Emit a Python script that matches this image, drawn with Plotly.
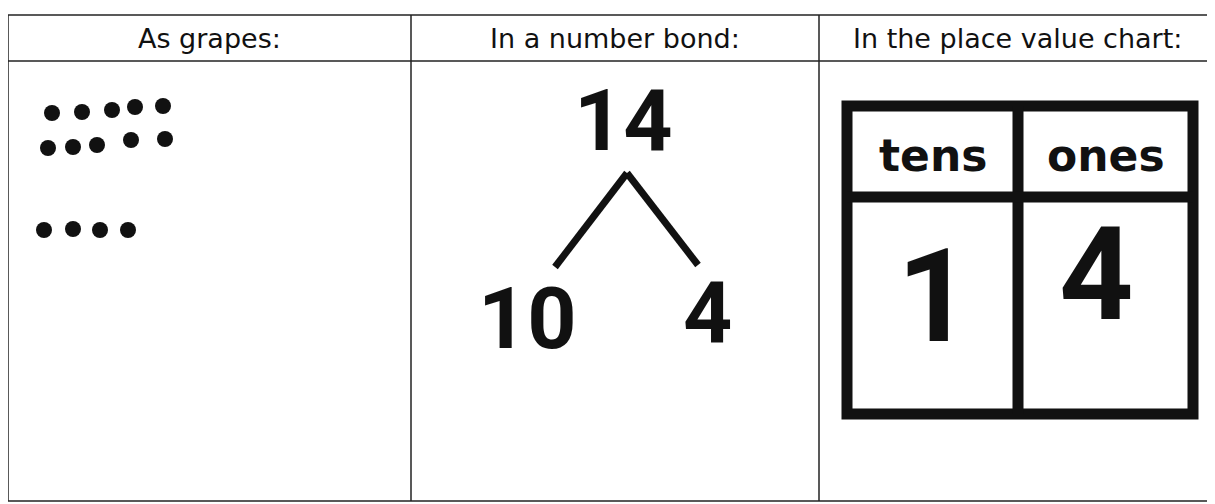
import plotly.graph_objects as go

# worksheet: the number 14 shown three ways
headers = ["As grapes:", "In a number bond:", "In the place value chart:"]
col_edges = [8, 411, 819, 1216]
table_top, header_bottom, table_bottom = 15, 61, 501

# grapes (page coordinates, y measured downward)
grape_x = [52, 82, 112, 135, 163, 48, 73, 97, 131, 165, 44, 73, 100, 128]
grape_y = [113, 112, 110, 107, 106, 148, 147, 145, 140, 139, 230, 229, 230, 230]

# number bond
bond_whole = "14"
bond_parts = ["10", "4"]
bond_whole_xy = (623, 120)
bond_parts_x = [527, 707]
bond_parts_y = [318, 312]
bond_apex = (627, 173)
bond_ends_x = [555, 698]
bond_ends_y = [267, 265]

# place value chart
pv_labels = ["tens", "ones"]
pv_digits = ["1", "4"]
pv_left, pv_right, pv_top, pv_bottom = 847, 1193, 106, 414
pv_mid_x, pv_row_y = 1018, 197
pv_digit_x = [934, 1096]
pv_digit_y = [296, 274]

INK = "#111111"
HEAD_FONT = "DejaVu Sans"
HAND_FONT = "Roboto"
LABEL_FONT = "DejaVu Sans"

# the page body has an 8px margin, so the axes are offset by the same amount
PAGE_PAD = 8

fig = go.Figure()

fig.add_trace(go.Scatter(
    x=grape_x, y=grape_y, mode="markers",
    marker=dict(size=16, color=INK), hoverinfo="skip",
))

for ex, ey in zip(bond_ends_x, bond_ends_y):
    fig.add_trace(go.Scatter(
        x=[bond_apex[0], ex], y=[bond_apex[1], ey], mode="lines",
        line=dict(color=INK, width=7), hoverinfo="skip",
    ))

# table grid
shapes = []
thin = dict(color="#222222", width=1.5)
for yy in (table_top, header_bottom, table_bottom):
    shapes.append(dict(type="line", x0=col_edges[0], x1=col_edges[-1], y0=yy, y1=yy, line=thin))
for xe in col_edges[:-1]:
    shapes.append(dict(type="line", x0=xe, x1=xe, y0=table_top, y1=table_bottom, line=thin))

# place value box
thick = dict(color=INK, width=11)
shapes.append(dict(type="rect", x0=pv_left, x1=pv_right, y0=pv_top, y1=pv_bottom, line=thick))
shapes.append(dict(type="line", x0=pv_mid_x, x1=pv_mid_x, y0=pv_top, y1=pv_bottom, line=thick))
shapes.append(dict(type="line", x0=pv_left, x1=pv_right, y0=pv_row_y, y1=pv_row_y, line=thick))

annotations = []
for i, h in enumerate(headers):
    annotations.append(dict(
        x=(col_edges[i] + col_edges[i + 1]) / 2, y=38, text=h,
        showarrow=False, font=dict(family=HEAD_FONT, size=27, color=INK),
        xanchor="center", yanchor="middle",
    ))

annotations.append(dict(
    x=bond_whole_xy[0], y=bond_whole_xy[1], text=f"<b>{bond_whole}</b>", showarrow=False,
    font=dict(family=HAND_FONT, size=86, color=INK), xanchor="center", yanchor="middle",
))
for px, py, t in zip(bond_parts_x, bond_parts_y, bond_parts):
    annotations.append(dict(
        x=px, y=py, text=f"<b>{t}</b>", showarrow=False,
        font=dict(family=HAND_FONT, size=86, color=INK), xanchor="center", yanchor="middle",
    ))

col_centers = [(pv_left + pv_mid_x) / 2, (pv_mid_x + pv_right) / 2]
for cx, lab in zip(col_centers, pv_labels):
    annotations.append(dict(
        x=cx, y=155, text=f"<b>{lab}</b>", showarrow=False,
        font=dict(family=LABEL_FONT, size=44, color=INK), xanchor="center", yanchor="middle",
    ))
for cx, cy, d in zip(pv_digit_x, pv_digit_y, pv_digits):
    annotations.append(dict(
        x=cx, y=cy, text=f"<b>{d}</b>", showarrow=False,
        font=dict(family=HAND_FONT, size=130, color=INK), xanchor="center", yanchor="middle",
    ))

fig.update_layout(
    width=1215, height=504,
    margin=dict(l=0, r=0, t=0, b=0),
    paper_bgcolor="white", plot_bgcolor="white",
    showlegend=False,
    shapes=shapes, annotations=annotations,
    xaxis=dict(range=[PAGE_PAD, 1215 + PAGE_PAD], visible=False, fixedrange=True),
    yaxis=dict(range=[504 + PAGE_PAD, PAGE_PAD], visible=False, fixedrange=True),
)

fig.write_html("out.html", config={"displayModeBar": False})
